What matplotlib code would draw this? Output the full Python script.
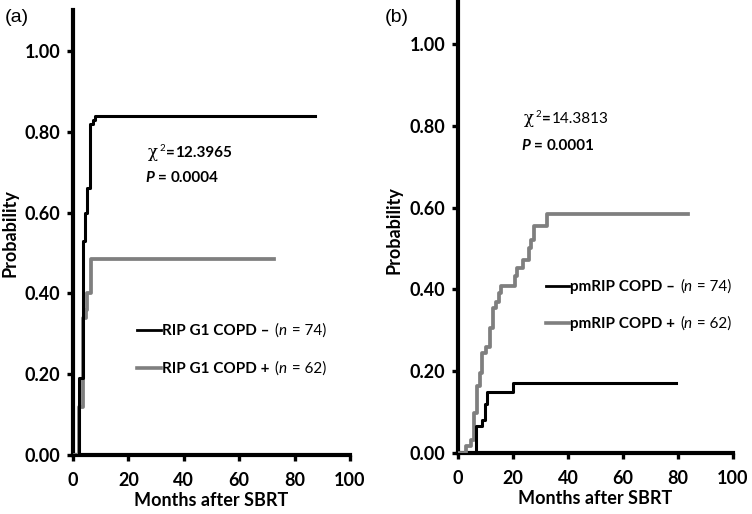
import matplotlib
matplotlib.use("Agg")
import matplotlib.pyplot as plt

plt.rcParams['font.family'] = ['Lato', 'DejaVu Sans']

# ---------------- data ----------------
a_black_t = [0.5, 2.3, 3.5, 4.3, 5.2, 6.1, 7.1, 7.9, 87.4]
a_black_p = [0.0, 0.19, 0.53, 0.60, 0.66, 0.82, 0.83, 0.84, 0.84]
a_gray_t = [0.7, 2.2, 3.5, 4.7, 5.2, 6.4, 72.6]
a_gray_p = [0.0, 0.12, 0.34, 0.36, 0.40, 0.485, 0.485]

b_black_t = [4.5, 6.7, 8.8, 9.7, 10.5, 20.0, 79.4]
b_black_p = [0.0, 0.065, 0.08, 0.12, 0.15, 0.172, 0.172]
b_gray_t = [0.0, 2.8, 4.8, 5.7, 6.9, 7.9, 8.8, 10.3, 11.8, 12.7, 13.9, 14.9, 15.8,
            20.6, 21.5, 23.6, 25.8, 26.7, 27.5, 32.4, 83.6]
b_gray_p = [0.0, 0.016, 0.033, 0.098, 0.163, 0.196, 0.245, 0.26, 0.306, 0.355, 0.37,
            0.39, 0.408, 0.433, 0.453, 0.473, 0.50, 0.52, 0.555, 0.584, 0.584]

x_ticks = [0, 20, 40, 60, 80, 100]
y_ticks = [0.0, 0.2, 0.4, 0.6, 0.8, 1.0]
y_ticklabels = ["0.00", "0.20", "0.40", "0.60", "0.80", "1.00"]

labels_a = ["RIP G1 COPD \u2013", "RIP G1 COPD +"]
labels_b = ["pmRIP COPD \u2013", "pmRIP COPD +"]
n_values = ["74", "62"]
chi_a, p_a = "12.3965", "0.0004"
chi_b, p_b = "14.3813", "0.0001"

GRAY = "#7f7f7f"
W, H = 752, 514
fig = plt.figure(figsize=(W / 100, H / 100), dpi=100)
renderer = fig.canvas.get_renderer()


def px_axes(l, r, b, t):
    return fig.add_axes([l / W, 1 - b / H, (r - l) / W, (b - t) / H])


def style(ax, ytop):
    ax.set_xlim(0, 100)
    ax.set_ylim(0, ytop)
    for s in ["top", "right"]:
        ax.spines[s].set_visible(False)
    for s in ["left", "bottom"]:
        ax.spines[s].set_linewidth(3.0)
        ax.spines[s].set_capstyle('projecting')
    ax.set_xticks(x_ticks)
    ax.set_yticks(y_ticks)
    ax.set_yticklabels(y_ticklabels)
    ax.tick_params(axis='both', length=4, width=2.4, labelsize=13)
    ax.tick_params(axis='y', pad=5)
    ax.tick_params(axis='x', pad=8)
    for lab in ax.get_xticklabels() + ax.get_yticklabels():
        lab.set_fontweight('bold')


def rich(x_px, y_px, pieces):
    x = x_px
    for s, kw in pieces:
        kw = dict(kw)
        dy = kw.pop('dy', 0)
        gap = kw.pop('gap', 0)
        x += gap
        t = fig.text(x / W, 1 - (y_px - dy) / H, s, va='baseline', ha='left', **kw)
        x += t.get_window_extent(renderer).width


def legend_entry(x_line0, x_line1, y_line, color, lw, label, n):
    fig.add_artist(plt.Line2D([x_line0 / W, x_line1 / W], [1 - y_line / H] * 2,
                              color=color, lw=lw, transform=fig.transFigure))
    rich(x_line1 + 1, y_line + 5, [
        (label, dict(fontsize=11, fontweight='bold')),
        ("(", dict(fontsize=11, gap=5)),
        ("n", dict(fontsize=11, style='italic')),
        (" = " + n + ")", dict(fontsize=11, gap=1)),
    ])


def stats(x_px, y1, y2, chi, p, chi_bold):
    rich(x_px, y1, [
        ("\u03c7", dict(fontsize=12, family='DejaVu Serif')),
        ("2", dict(fontsize=7, dy=6, gap=1)),
        ("=", dict(fontsize=11, fontweight='bold', gap=1)),
        (chi, dict(fontsize=11, fontweight='bold' if chi_bold else 'normal', gap=1)),
    ])
    rich(x_px - 3, y2, [
        ("P", dict(fontsize=11, fontweight='bold', style='italic')),
        ("=", dict(fontsize=11, fontweight='bold', gap=4)),
        (p, dict(fontsize=11, fontweight='bold', gap=4)),
    ])


# ---------------- panel (a) ----------------
ax1 = px_axes(73, 350, 455, 10)
style(ax1, 445 / 404)
ax1.step(a_gray_t, a_gray_p, where='post', color=GRAY, lw=2.7, zorder=3)
ax1.step(a_black_t, a_black_p, where='post', color='black', lw=2.2, zorder=4)

# ---------------- panel (b) ----------------
ax2 = px_axes(458, 733, 453, 2)
style(ax2, 451 / 409)
ax2.step(b_gray_t, b_gray_p, where='post', color=GRAY, lw=2.7, zorder=3)
ax2.step(b_black_t, b_black_p, where='post', color='black', lw=2.2, zorder=4)

# axis labels
for xc, yc in [(10, 233), (394, 230)]:
    fig.text(xc / W, 1 - yc / H, "Probability", rotation=90, ha='center', va='center',
             fontsize=13, fontweight='bold')
for xc, yc in [(211, 500), (595, 498)]:
    fig.text(xc / W, 1 - yc / H, "Months after SBRT", ha='center', va='center',
             fontsize=13, fontweight='bold')

fig.text(17 / W, 1 - 18 / H, "(a)", ha='center', va='center', fontsize=14,
         family='Liberation Sans')
fig.text(397 / W, 1 - 18 / H, "(b)", ha='center', va='center', fontsize=14,
         family='Liberation Sans')

stats(148, 157, 182, chi_a, p_a, True)
stats(524, 123, 150, chi_b, p_b, False)

legend_entry(137, 161, 330, 'black', 2.0, labels_a[0], n_values[0])
legend_entry(137, 161, 368, GRAY, 2.6, labels_a[1], n_values[1])
legend_entry(546, 569, 286, 'black', 2.0, labels_b[0], n_values[0])
legend_entry(546, 569, 323, GRAY, 2.6, labels_b[1], n_values[1])

fig.savefig("out.png", dpi=100)
